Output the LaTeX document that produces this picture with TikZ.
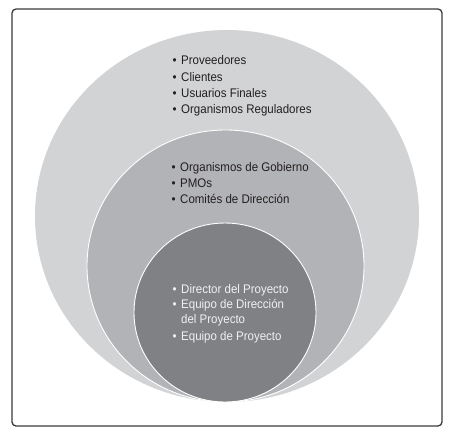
\documentclass[tikz,border=0pt]{standalone}
\usepackage{fontspec}
\setmainfont[FakeStretch=0.92]{Liberation Sans}
\definecolor{ringA}{RGB}{210,211,213}
\definecolor{ringB}{RGB}{178,179,182}
\definecolor{ringC}{RGB}{128,129,132}
\definecolor{darktext}{RGB}{35,31,32}
\definecolor{lighttext}{RGB}{240,240,240}
\definecolor{framecol}{RGB}{58,58,58}
\begin{document}
\begin{tikzpicture}[x=1pt,y=-1pt,
  item/.style={anchor=base west,inner sep=0pt,font=\fontsize{12.5}{14}\selectfont},
  dark/.style={item,text=darktext},
  light/.style={item,text=lighttext},
  ring/.style={draw=white,line width=0.9pt}]
\useasboundingbox (0,0) rectangle (454,437);
\draw[framecol,line width=1.3pt,rounded corners=4pt] (12,9) rectangle (442,426);
\fill[ringA] (227,216) ellipse [x radius=192pt, y radius=186pt];
\draw[ring,fill=ringB] (225.5,266) ellipse [x radius=138.5pt, y radius=136pt];
\draw[ring,fill=ringC] (225,312.5) ellipse [x radius=91pt, y radius=89.5pt];
\newcommand{\bul}{\llap{•\hspace{4.5pt}}}
\node[dark] (a1) at (181,64) {\bul Proveedores};
\node[dark] (a2) at (181,81) {\bul Clientes};
\node[dark] (a3) at (181,97) {\bul Usuarios Finales};
\node[dark] (a4) at (181,113) {\bul Organismos Reguladores};
\node[dark] (b1) at (180,171) {\bul Organismos de Gobierno};
\node[dark] (b2) at (180,187) {\bul PMOs};
\node[dark] (b3) at (180,203) {\bul Comités de Dirección};
\node[light] (c1) at (181,293) {\bul Director del Proyecto};
\node[light] (c2) at (181,308) {\bul Equipo de Dirección};
\node[light] (c2b) at (181,323) {del Proyecto};
\node[light] (c3) at (181,340) {\bul Equipo de Proyecto};
\end{tikzpicture}
\end{document}
